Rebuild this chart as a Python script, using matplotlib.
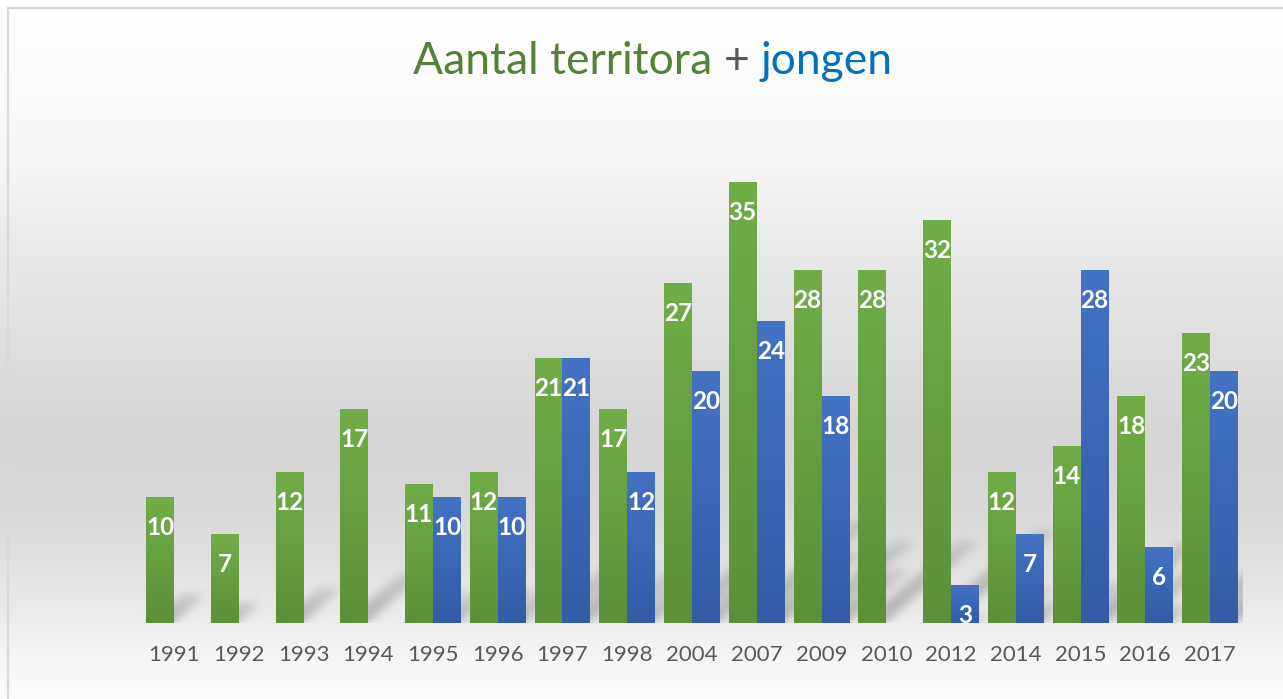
import numpy as np
import matplotlib
matplotlib.use("Agg")
import matplotlib.pyplot as plt
from matplotlib.colors import to_rgb

# ---------------- data ----------------
years = ["1991", "1992", "1993", "1994", "1995", "1996", "1997", "1998", "2004",
         "2007", "2009", "2010", "2012", "2014", "2015", "2016", "2017"]
territoria = [10, 7, 12, 17, 11, 12, 21, 17, 27, 35, 28, 28, 32, 12, 14, 18, 23]
jongen = [None, None, None, None, 10, 10, 21, 12, 20, 24, 18, None, 3, 7, 28, 6, 20]

title_parts = ["Aantal territora", "+", "jongen"]
title_colors = ["#548235", "#595959", "#0070C0"]

green_top, green_bot = "#70AD47", "#5C9038"
blue_top, blue_bot = "#4472C4", "#335BA6"

W, H, DPI = 1283, 699, 100
FONT = "Lato"

fig = plt.figure(figsize=(W / DPI, H / DPI), dpi=DPI)
bg_ax = fig.add_axes([0, 0, 1, 1])
bg_ax.set_xlim(0, W)
bg_ax.set_ylim(0, H)
bg_ax.set_axis_off()
bg_ax.set_zorder(0)

ax = fig.add_axes([141.6 / W, (H - 623) / H, (1242.4 - 141.6) / W, (623 - 120) / H])
ax.set_zorder(1)
ax.patch.set_alpha(0)
n = len(years)
ax.set_xlim(-0.5, n - 0.5)
ax.set_ylim(0, 40)
for s in ax.spines.values():
    s.set_visible(False)
ax.set_yticks([])
ax.set_xticks(range(n))
ax.set_xticklabels(years, fontsize=16, color="#595959", family=FONT)
ax.tick_params(axis="x", length=0, pad=15.5)

bw = 0.432
off = bw / 2


def grad_bar(xc, v, ctop, cbot):
    t = np.linspace(0, 1, 128)[:, None]
    c0, c1 = np.array(to_rgb(ctop)), np.array(to_rgb(cbot))
    img = c1[None, None, :] * (1 - t[..., None]) + c0[None, None, :] * t[..., None]
    ax.imshow(img, extent=[xc - bw / 2, xc + bw / 2, 0, v], origin="lower",
              aspect="auto", interpolation="bilinear", zorder=2)
    ax.annotate(str(v), xy=(xc, v), xytext=(0, -21.6), textcoords="offset points",
                ha="center", va="center", color="white", fontsize=17.5,
                fontweight="bold", family=FONT, zorder=3)


bars = []
for i in range(n):
    grad_bar(i - off, territoria[i], green_top, green_bot)
    bars.append((i - off, territoria[i]))
    if jongen[i] is not None:
        grad_bar(i + off, jongen[i], blue_top, blue_bot)
        bars.append((i + off, jongen[i]))
ax.set_xlim(-0.5, n - 0.5)
ax.set_ylim(0, 40)

# ---------------- background with soft perspective shadows ----------------
stops_y = np.array([0, 8, 100, 160, 310, 430, 500, 560, 623, 660, 699])
stops_g = np.array([255, 255, 251, 246, 226, 214, 216, 224, 238, 246, 253]) / 255.0
rows_from_top = H - 1 - np.arange(H)  # display row -> row from top
gray = np.interp(rows_from_top, stops_y, stops_g)

sh = np.zeros((H, W))
for xc, v in bars:
    (px0, pb) = ax.transData.transform((xc - bw / 2, 0))
    (px1, pt) = ax.transData.transform((xc + bw / 2, v))
    h = pt - pb
    rise, run = 0.23 * h, 0.28 * h
    for row in range(int(pb), int(pb + rise) + 1):
        f = (row - pb) / rise
        xs = px0 + f * run + 2
        xe = px1 + f * run * 0.95
        a = 0.25 * (1 - 0.55 * f)
        seg = sh[row, max(int(xs), 0):min(int(xe), W)]
        np.maximum(seg, a, out=seg)


def box_blur(a, r, axis):
    pad = [(0, 0), (0, 0)]
    pad[axis] = (r + 1, r)
    p = np.pad(a, pad, mode="edge")
    c = np.cumsum(p, axis=axis)
    if axis == 0:
        return (c[2 * r + 1:, :] - c[:-2 * r - 1, :]) / (2 * r + 1)
    return (c[:, 2 * r + 1:] - c[:, :-2 * r - 1]) / (2 * r + 1)


for _ in range(3):
    sh = box_blur(sh, 4, 0)
    sh = box_blur(sh, 4, 1)

(axl, axb) = ax.transAxes.transform((0, 0))
(axr, axt) = ax.transAxes.transform((1, 1))
sh[:, :int(axl)] = 0
sh[:, int(axr) + 1:] = 0
sh[:int(round(axb)), :] = 0

img = gray[:, None] * (1 - sh)
img = np.dstack([img, img, img])
bg_ax.imshow(img, origin="lower", extent=[0, W, 0, H], interpolation="nearest",
             aspect="auto", zorder=0)
bg_ax.set_xlim(0, W)
bg_ax.set_ylim(0, H)

# border (top and left only visible)
bg_ax.plot([7.5, 7.5, W], [0, H - 7.5, H - 7.5], color="#D9D9D9", lw=1.6, zorder=1,
           solid_joinstyle="miter")

# ---------------- multi-coloured title ----------------
fig.canvas.draw()
renderer = fig.canvas.get_renderer()
tsize = 32
texts = [bg_ax.text(0, H - 74, p, color=c, fontsize=tsize, family=FONT, va="baseline",
                    ha="left", zorder=2) for p, c in zip(title_parts, title_colors)]
tmp = bg_ax.text(0, 0, "a a", fontsize=tsize, family=FONT)
tmp2 = bg_ax.text(0, 0, "aa", fontsize=tsize, family=FONT)
space = tmp.get_window_extent(renderer).width - tmp2.get_window_extent(renderer).width
tmp.remove()
tmp2.remove()
widths = [t.get_window_extent(renderer).width for t in texts]
total = sum(widths) + space * (len(texts) - 1)
x = 653 - total / 2
for t, w in zip(texts, widths):
    t.set_x(x)
    x += w + space

fig.savefig("out.png", dpi=DPI)
